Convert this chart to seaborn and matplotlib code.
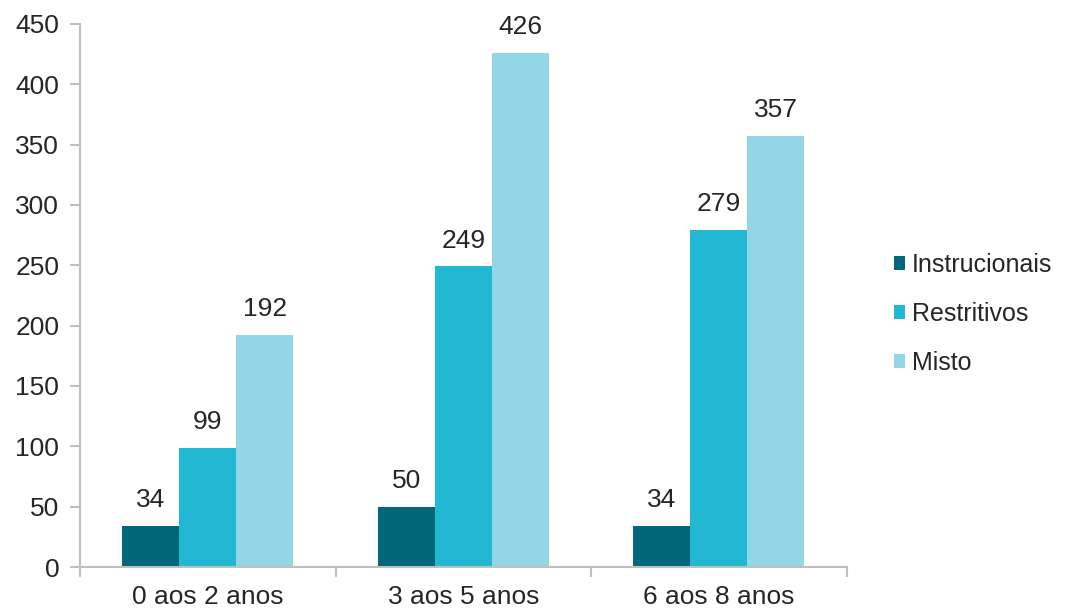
import matplotlib
matplotlib.use("Agg")
import matplotlib.pyplot as plt
import seaborn as sns
import pandas as pd
from matplotlib.ticker import FixedLocator

faixas = ["0 aos 2 anos", "3 aos 5 anos", "6 aos 8 anos"]
instrucionais = [34, 50, 34]
restritivos = [99, 249, 279]
misto = [192, 426, 357]
series = ["Instrucionais", "Restritivos", "Misto"]
cores = ["#00687A", "#22B8D4", "#93D6E6"]
yticks = [0, 50, 100, 150, 200, 250, 300, 350, 400, 450]

df = pd.DataFrame({
    "faixa": faixas * 3,
    "tipo": [series[0]] * 3 + [series[1]] * 3 + [series[2]] * 3,
    "valor": instrucionais + restritivos + misto,
})

sns.set_style("white")
plt.rcParams["font.family"] = ["Liberation Sans", "DejaVu Sans"]

fs = 19
fig = plt.figure(figsize=(10.69, 6.12), dpi=100)
ax = fig.add_axes([0.0748, 0.0735, 0.7172, 0.8875])

sns.barplot(data=df, x="faixa", y="valor", hue="tipo", hue_order=series,
            palette=cores, width=0.67, saturation=1, ax=ax, legend=True,
            edgecolor="none", linewidth=0)

for cont in ax.containers:
    ax.bar_label(cont, fmt="%d", padding=10, fontsize=fs, color="#262626")

ax.set_ylim(0, 450)
ax.set_xlim(-0.5, 2.5)
ax.set_yticks(yticks)
ax.set_xlabel("")
ax.set_ylabel("")

for side in ["top", "right"]:
    ax.spines[side].set_visible(False)
for side in ["left", "bottom"]:
    ax.spines[side].set_color("#BFBFBF")
    ax.spines[side].set_linewidth(1.5)

ax.tick_params(axis="y", which="major", length=7, width=1.5, color="#BFBFBF",
               labelsize=fs, labelcolor="#262626", pad=8, left=True)
ax.tick_params(axis="x", which="major", length=0, labelsize=fs,
               labelcolor="#262626", pad=13)
ax.xaxis.set_minor_locator(FixedLocator([-0.5, 0.5, 1.5, 2.5]))
ax.tick_params(axis="x", which="minor", length=7, width=1.5, color="#BFBFBF",
               bottom=True)

leg = ax.legend(loc="center left", bbox_to_anchor=(1.062, 0.466), frameon=False,
                fontsize=18, handlelength=0.45, handleheight=0.45,
                handletextpad=0.25, labelspacing=1.0, labelcolor="#262626",
                borderpad=0, borderaxespad=0)

fig.savefig("out.png", dpi=100)
